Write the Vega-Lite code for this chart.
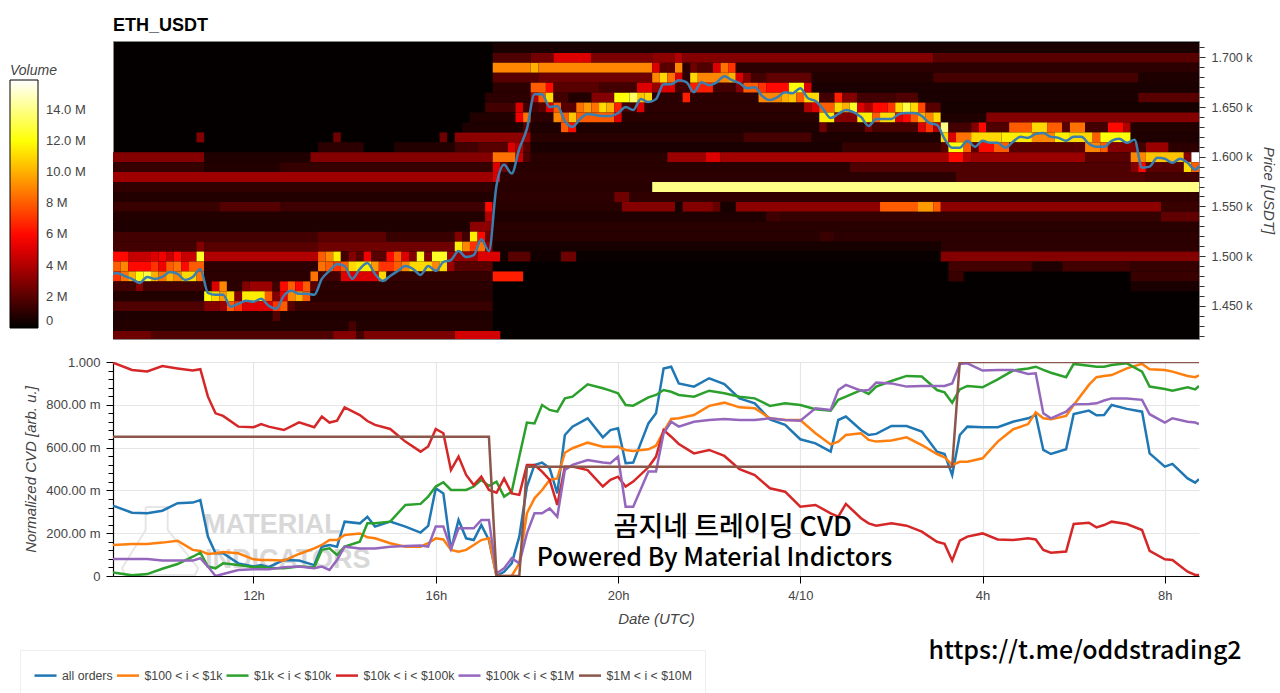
{
"$schema":"https://vega.github.io/schema/vega-lite/v6.json",
"background":"white",
"padding":{"left":9,"top":16,"right":8,"bottom":0},
"spacing":16,
"config":{"font":"Liberation Sans","axis":{"labelFontSize":13,"labelColor":"#444","titleFontSize":15,"titleFontStyle":"italic","titleFontWeight":"normal","titleColor":"#444","labelOverlap":false,"labelFlush":false}},
"vconcat":[
{"width":1086,"height":298,
"title":{"text":"ETH_USDT","anchor":"start","frame":"group","fontSize":18,"fontWeight":"bold","color":"#000","offset":6},
"view":{"fill":"#050000","stroke":"#888"},
"resolve":{"axis":{"y":"independent"}},
"layer":[
{"data":{"format":{"parse":{"t0":"utc:'%d %H:%M'","t1":"utc:'%d %H:%M'"}},"values":[
{"t0":"3 17:15","t1":"4 08:45","p":1710,"v":0.6},
{"t0":"3 17:15","t1":"3 18:05","p":1700,"v":1.8},{"t0":"3 18:05","t1":"3 18:35","p":1700,"v":2.6},{"t0":"3 18:35","t1":"3 19:25","p":1700,"v":5},{"t0":"3 19:25","t1":"3 20:45","p":1700,"v":2.8},{"t0":"3 20:45","t1":"3 21:15","p":1700,"v":3.2},{"t0":"3 21:15","t1":"3 21:25","p":1700,"v":4},{"t0":"3 21:25","t1":"4 02:55","p":1700,"v":3},{"t0":"4 02:55","t1":"4 08:45","p":1700,"v":2},
{"t0":"3 17:15","t1":"3 18:05","p":1690,"v":9},{"t0":"3 18:05","t1":"3 18:15","p":1690,"v":10},{"t0":"3 18:15","t1":"3 20:45","p":1690,"v":9},{"t0":"3 20:45","t1":"3 20:55","p":1690,"v":5},{"t0":"3 20:55","t1":"3 21:15","p":1690,"v":2},{"t0":"3 21:15","t1":"3 21:25","p":1690,"v":9},{"t0":"3 21:25","t1":"3 21:35","p":1690,"v":1},{"t0":"3 21:35","t1":"3 21:45","p":1690,"v":2.5},{"t0":"3 21:45","t1":"3 22:05","p":1690,"v":1.8},{"t0":"3 22:05","t1":"3 22:15","p":1690,"v":5},{"t0":"3 22:15","t1":"3 22:25","p":1690,"v":8.5},{"t0":"3 22:25","t1":"3 22:35","p":1690,"v":7},{"t0":"3 22:35","t1":"4 08:45","p":1690,"v":1},
{"t0":"3 17:15","t1":"3 18:15","p":1680,"v":2},{"t0":"3 18:15","t1":"3 20:45","p":1680,"v":2.5},{"t0":"3 20:45","t1":"3 20:55","p":1680,"v":9},{"t0":"3 20:55","t1":"3 21:05","p":1680,"v":11},{"t0":"3 21:05","t1":"3 21:15","p":1680,"v":8.5},{"t0":"3 21:15","t1":"3 21:25","p":1680,"v":5},{"t0":"3 21:25","t1":"3 21:35","p":1680,"v":1},{"t0":"3 21:35","t1":"3 21:45","p":1680,"v":11},{"t0":"3 21:45","t1":"3 22:25","p":1680,"v":9},{"t0":"3 22:25","t1":"3 22:35","p":1680,"v":10},{"t0":"3 22:35","t1":"3 22:45","p":1680,"v":5},{"t0":"3 22:45","t1":"3 22:55","p":1680,"v":3},{"t0":"3 22:55","t1":"3 23:15","p":1680,"v":1.5},{"t0":"3 23:15","t1":"4 00:15","p":1680,"v":2.2},{"t0":"4 00:15","t1":"4 02:55","p":1680,"v":0.8},{"t0":"4 02:55","t1":"4 07:25","p":1680,"v":1.6},{"t0":"4 07:25","t1":"4 08:45","p":1680,"v":0.7},
{"t0":"3 17:15","t1":"3 18:05","p":1670,"v":1},{"t0":"3 18:05","t1":"3 18:25","p":1670,"v":8},{"t0":"3 18:25","t1":"3 18:35","p":1670,"v":6},{"t0":"3 18:35","t1":"3 19:35","p":1670,"v":2},{"t0":"3 19:35","t1":"3 20:25","p":1670,"v":1.5},{"t0":"3 20:25","t1":"3 20:45","p":1670,"v":5},{"t0":"3 20:45","t1":"3 20:55","p":1670,"v":3.5},{"t0":"3 20:55","t1":"3 21:15","p":1670,"v":5},{"t0":"3 21:15","t1":"3 21:35","p":1670,"v":1.5},{"t0":"3 21:35","t1":"3 22:05","p":1670,"v":6.5},{"t0":"3 22:05","t1":"3 22:35","p":1670,"v":1.5},{"t0":"3 22:35","t1":"3 22:45","p":1670,"v":3},{"t0":"3 22:45","t1":"3 23:05","p":1670,"v":8},{"t0":"3 23:05","t1":"3 23:15","p":1670,"v":7},{"t0":"3 23:15","t1":"3 23:45","p":1670,"v":6},{"t0":"3 23:45","t1":"4 00:05","p":1670,"v":12},{"t0":"4 00:05","t1":"4 00:15","p":1670,"v":5},{"t0":"4 00:15","t1":"4 08:45","p":1670,"v":0.6},
{"t0":"3 17:05","t1":"3 18:05","p":1660,"v":1},{"t0":"3 18:05","t1":"3 18:15","p":1660,"v":4},{"t0":"3 18:15","t1":"3 18:25","p":1660,"v":8},{"t0":"3 18:25","t1":"3 18:35","p":1660,"v":11},{"t0":"3 18:35","t1":"3 18:55","p":1660,"v":1.5},{"t0":"3 18:55","t1":"3 19:25","p":1660,"v":0.8},{"t0":"3 19:25","t1":"3 19:55","p":1660,"v":3},{"t0":"3 19:55","t1":"3 20:15","p":1660,"v":12},{"t0":"3 20:15","t1":"3 20:25","p":1660,"v":13.5},{"t0":"3 20:25","t1":"3 20:35","p":1660,"v":10.5},{"t0":"3 20:35","t1":"3 20:45","p":1660,"v":11},{"t0":"3 20:45","t1":"3 21:25","p":1660,"v":1},{"t0":"3 21:25","t1":"3 21:35","p":1660,"v":6.5},{"t0":"3 21:35","t1":"3 23:05","p":1660,"v":1},{"t0":"3 23:05","t1":"3 23:35","p":1660,"v":9},{"t0":"3 23:35","t1":"3 23:45","p":1660,"v":10},{"t0":"3 23:45","t1":"3 23:55","p":1660,"v":10.5},{"t0":"3 23:55","t1":"4 00:05","p":1660,"v":8},{"t0":"4 00:05","t1":"4 00:25","p":1660,"v":11},{"t0":"4 00:25","t1":"4 00:45","p":1660,"v":1.5},{"t0":"4 00:45","t1":"4 00:55","p":1660,"v":6.5},{"t0":"4 00:55","t1":"4 01:15","p":1660,"v":3},{"t0":"4 01:15","t1":"4 02:05","p":1660,"v":1.5},{"t0":"4 02:05","t1":"4 02:35","p":1660,"v":1.8},{"t0":"4 02:35","t1":"4 07:25","p":1660,"v":0.6},{"t0":"4 07:25","t1":"4 08:45","p":1660,"v":2},
{"t0":"3 17:05","t1":"3 17:45","p":1650,"v":1.5},{"t0":"3 17:45","t1":"3 17:55","p":1650,"v":5},{"t0":"3 17:55","t1":"3 18:15","p":1650,"v":1.5},{"t0":"3 18:15","t1":"3 18:25","p":1650,"v":2},{"t0":"3 18:25","t1":"3 18:35","p":1650,"v":5},{"t0":"3 18:35","t1":"3 18:45","p":1650,"v":8},{"t0":"3 18:45","t1":"3 19:05","p":1650,"v":2},{"t0":"3 19:05","t1":"3 19:15","p":1650,"v":8.5},{"t0":"3 19:15","t1":"3 19:25","p":1650,"v":9.5},{"t0":"3 19:25","t1":"3 19:35","p":1650,"v":8.5},{"t0":"3 19:35","t1":"3 19:45","p":1650,"v":11},{"t0":"3 19:45","t1":"3 19:55","p":1650,"v":10},{"t0":"3 19:55","t1":"3 20:05","p":1650,"v":6.5},{"t0":"3 20:05","t1":"3 20:25","p":1650,"v":1.5},{"t0":"3 20:25","t1":"3 20:35","p":1650,"v":5},{"t0":"3 20:35","t1":"4 00:05","p":1650,"v":1},{"t0":"4 00:05","t1":"4 00:15","p":1650,"v":4},{"t0":"4 00:15","t1":"4 00:25","p":1650,"v":5},{"t0":"4 00:25","t1":"4 00:45","p":1650,"v":8},{"t0":"4 00:45","t1":"4 00:55","p":1650,"v":11},{"t0":"4 00:55","t1":"4 01:05","p":1650,"v":10},{"t0":"4 01:05","t1":"4 01:15","p":1650,"v":12.5},{"t0":"4 01:15","t1":"4 01:25","p":1650,"v":5},{"t0":"4 01:25","t1":"4 01:35","p":1650,"v":4},{"t0":"4 01:35","t1":"4 01:55","p":1650,"v":6},{"t0":"4 01:55","t1":"4 02:05","p":1650,"v":7},{"t0":"4 02:05","t1":"4 02:15","p":1650,"v":11},{"t0":"4 02:15","t1":"4 02:25","p":1650,"v":13},{"t0":"4 02:25","t1":"4 02:35","p":1650,"v":11},{"t0":"4 02:35","t1":"4 02:45","p":1650,"v":7.5},{"t0":"4 02:45","t1":"4 03:05","p":1650,"v":2},{"t0":"4 03:05","t1":"4 08:45","p":1650,"v":0.5},
{"t0":"3 16:45","t1":"3 17:45","p":1640,"v":0.8},{"t0":"3 17:45","t1":"3 17:55","p":1640,"v":5.5},{"t0":"3 17:55","t1":"3 18:05","p":1640,"v":8.5},{"t0":"3 18:05","t1":"3 18:35","p":1640,"v":1},{"t0":"3 18:35","t1":"3 18:45","p":1640,"v":9},{"t0":"3 18:45","t1":"3 18:55","p":1640,"v":8},{"t0":"3 18:55","t1":"3 19:05","p":1640,"v":10.5},{"t0":"3 19:05","t1":"3 19:55","p":1640,"v":8},{"t0":"3 19:55","t1":"3 20:05","p":1640,"v":5},{"t0":"3 20:05","t1":"4 00:25","p":1640,"v":0.9},{"t0":"4 00:25","t1":"4 00:45","p":1640,"v":11.5},{"t0":"4 00:45","t1":"4 01:15","p":1640,"v":3},{"t0":"4 01:15","t1":"4 01:35","p":1640,"v":11.5},{"t0":"4 01:35","t1":"4 01:45","p":1640,"v":8},{"t0":"4 01:45","t1":"4 02:05","p":1640,"v":11},{"t0":"4 02:05","t1":"4 02:15","p":1640,"v":5},{"t0":"4 02:15","t1":"4 02:25","p":1640,"v":6},{"t0":"4 02:25","t1":"4 02:35","p":1640,"v":8},{"t0":"4 02:35","t1":"4 02:45","p":1640,"v":10},{"t0":"4 02:45","t1":"4 02:55","p":1640,"v":9},{"t0":"4 02:55","t1":"4 03:05","p":1640,"v":11},{"t0":"4 03:05","t1":"4 04:05","p":1640,"v":0.7},{"t0":"4 04:05","t1":"4 08:45","p":1640,"v":3},
{"t0":"3 16:35","t1":"3 17:55","p":1630,"v":0.7},{"t0":"3 17:55","t1":"3 18:05","p":1630,"v":2},{"t0":"3 18:05","t1":"3 18:45","p":1630,"v":0.7},{"t0":"3 18:45","t1":"3 18:55","p":1630,"v":8},{"t0":"3 18:55","t1":"3 19:05","p":1630,"v":6},{"t0":"3 19:05","t1":"4 00:25","p":1630,"v":0.7},{"t0":"4 00:25","t1":"4 00:35","p":1630,"v":2.5},{"t0":"4 00:35","t1":"4 01:25","p":1630,"v":1},{"t0":"4 01:25","t1":"4 01:35","p":1630,"v":2.5},{"t0":"4 01:35","t1":"4 02:35","p":1630,"v":1.6},{"t0":"4 02:35","t1":"4 02:45","p":1630,"v":5},{"t0":"4 02:45","t1":"4 02:55","p":1630,"v":7},{"t0":"4 02:55","t1":"4 03:05","p":1630,"v":4},{"t0":"4 03:05","t1":"4 03:15","p":1630,"v":14},{"t0":"4 03:15","t1":"4 03:45","p":1630,"v":1.5},{"t0":"4 03:45","t1":"4 03:55","p":1630,"v":3},{"t0":"4 03:55","t1":"4 04:05","p":1630,"v":6},{"t0":"4 04:05","t1":"4 04:35","p":1630,"v":1.8},{"t0":"4 04:35","t1":"4 05:05","p":1630,"v":8},{"t0":"4 05:05","t1":"4 05:25","p":1630,"v":11},{"t0":"4 05:25","t1":"4 05:45","p":1630,"v":8},{"t0":"4 05:45","t1":"4 05:55","p":1630,"v":2},{"t0":"4 05:55","t1":"4 06:15","p":1630,"v":8.5},{"t0":"4 06:15","t1":"4 06:45","p":1630,"v":1.5},{"t0":"4 06:45","t1":"4 07:05","p":1630,"v":6},{"t0":"4 07:05","t1":"4 07:15","p":1630,"v":4},{"t0":"4 07:15","t1":"4 08:45","p":1630,"v":0.8},
{"t0":"3 10:45","t1":"3 10:55","p":1620,"v":3},{"t0":"3 13:45","t1":"3 13:55","p":1620,"v":2.5},{"t0":"3 16:05","t1":"3 16:15","p":1620,"v":2.5},{"t0":"3 16:25","t1":"3 17:55","p":1620,"v":3.2},{"t0":"3 17:55","t1":"3 18:05","p":1620,"v":3.6},{"t0":"3 18:05","t1":"3 22:45","p":1620,"v":0.9},{"t0":"3 22:45","t1":"4 00:15","p":1620,"v":1.6},{"t0":"4 00:15","t1":"4 03:05","p":1620,"v":0.7},{"t0":"4 03:05","t1":"4 03:15","p":1620,"v":11},{"t0":"4 03:15","t1":"4 03:25","p":1620,"v":5},{"t0":"4 03:25","t1":"4 03:45","p":1620,"v":8.5},{"t0":"4 03:45","t1":"4 04:25","p":1620,"v":11},{"t0":"4 04:25","t1":"4 05:05","p":1620,"v":11.5},{"t0":"4 05:05","t1":"4 05:35","p":1620,"v":9},{"t0":"4 05:35","t1":"4 05:55","p":1620,"v":11.5},{"t0":"4 05:55","t1":"4 06:25","p":1620,"v":11},{"t0":"4 06:25","t1":"4 06:35","p":1620,"v":8},{"t0":"4 06:35","t1":"4 07:15","p":1620,"v":12},{"t0":"4 07:15","t1":"4 08:45","p":1620,"v":0.7},
{"t0":"3 13:25","t1":"3 14:25","p":1610,"v":1},{"t0":"3 15:05","t1":"3 16:25","p":1610,"v":0.8},{"t0":"3 16:25","t1":"3 16:55","p":1610,"v":1.5},{"t0":"3 16:55","t1":"3 17:35","p":1610,"v":2},{"t0":"3 17:35","t1":"3 17:45","p":1610,"v":5},{"t0":"3 17:45","t1":"3 17:55","p":1610,"v":4},{"t0":"3 17:55","t1":"3 18:05","p":1610,"v":2},{"t0":"3 18:05","t1":"4 00:55","p":1610,"v":0.6},{"t0":"4 00:55","t1":"4 03:05","p":1610,"v":1.2},{"t0":"4 03:05","t1":"4 03:15","p":1610,"v":2},{"t0":"4 03:15","t1":"4 03:35","p":1610,"v":12},{"t0":"4 03:35","t1":"4 03:45","p":1610,"v":8},{"t0":"4 03:45","t1":"4 03:55","p":1610,"v":2},{"t0":"4 03:55","t1":"4 04:15","p":1610,"v":6},{"t0":"4 04:15","t1":"4 04:35","p":1610,"v":8},{"t0":"4 04:35","t1":"4 06:15","p":1610,"v":2},{"t0":"4 06:15","t1":"4 06:35","p":1610,"v":9},{"t0":"4 06:35","t1":"4 06:45","p":1610,"v":8},{"t0":"4 06:45","t1":"4 07:25","p":1610,"v":3},{"t0":"4 07:25","t1":"4 07:35","p":1610,"v":1.5},{"t0":"4 07:35","t1":"4 08:05","p":1610,"v":3.5},{"t0":"4 08:05","t1":"4 08:45","p":1610,"v":1},
{"t0":"3 08:55","t1":"3 10:55","p":1600,"v":3},{"t0":"3 10:55","t1":"3 13:15","p":1600,"v":0.7},{"t0":"3 13:15","t1":"3 17:15","p":1600,"v":3},{"t0":"3 17:15","t1":"3 17:45","p":1600,"v":8.5},{"t0":"3 17:45","t1":"3 17:55","p":1600,"v":4.5},{"t0":"3 17:55","t1":"3 18:05","p":1600,"v":1.8},{"t0":"3 18:05","t1":"3 21:05","p":1600,"v":0.9},{"t0":"3 21:05","t1":"3 21:55","p":1600,"v":3.5},{"t0":"3 21:55","t1":"3 22:15","p":1600,"v":5},{"t0":"3 22:15","t1":"4 03:15","p":1600,"v":3.7},{"t0":"4 03:15","t1":"4 03:35","p":1600,"v":6},{"t0":"4 03:35","t1":"4 03:45","p":1600,"v":4},{"t0":"4 03:45","t1":"4 06:15","p":1600,"v":3.5},{"t0":"4 06:15","t1":"4 07:15","p":1600,"v":2},{"t0":"4 07:15","t1":"4 07:35","p":1600,"v":9},{"t0":"4 07:35","t1":"4 08:25","p":1600,"v":10.5},{"t0":"4 08:25","t1":"4 08:35","p":1600,"v":3},{"t0":"4 08:35","t1":"4 08:45","p":1600,"v":15.9},
{"t0":"3 08:55","t1":"3 10:55","p":1590,"v":1.2},{"t0":"3 10:55","t1":"3 12:35","p":1590,"v":0.8},{"t0":"3 12:35","t1":"3 17:15","p":1590,"v":1.2},{"t0":"3 17:15","t1":"3 17:25","p":1590,"v":5},{"t0":"3 17:25","t1":"3 17:35","p":1590,"v":2.5},{"t0":"3 17:35","t1":"4 01:05","p":1590,"v":0.9},{"t0":"4 01:05","t1":"4 07:15","p":1590,"v":1.8},{"t0":"4 07:15","t1":"4 07:25","p":1590,"v":3},{"t0":"4 07:25","t1":"4 07:35","p":1590,"v":6},{"t0":"4 07:35","t1":"4 08:25","p":1590,"v":2},{"t0":"4 08:25","t1":"4 08:35","p":1590,"v":11},{"t0":"4 08:35","t1":"4 08:45","p":1590,"v":8},
{"t0":"3 08:55","t1":"3 17:15","p":1580,"v":3.6},{"t0":"3 17:15","t1":"3 17:25","p":1580,"v":5},{"t0":"3 17:25","t1":"4 03:25","p":1580,"v":1},{"t0":"4 03:25","t1":"4 07:35","p":1580,"v":1.8},{"t0":"4 07:35","t1":"4 08:45","p":1580,"v":1.5},
{"t0":"3 08:55","t1":"3 17:15","p":1570,"v":1.1},{"t0":"3 17:15","t1":"3 20:45","p":1570,"v":0.9},{"t0":"3 20:45","t1":"4 08:45","p":1570,"v":14},
{"t0":"3 08:55","t1":"3 17:15","p":1560,"v":0.8},{"t0":"3 17:15","t1":"3 19:55","p":1560,"v":1},{"t0":"3 19:55","t1":"3 20:15","p":1560,"v":2.5},{"t0":"3 20:15","t1":"4 08:45","p":1560,"v":1.1},
{"t0":"3 08:55","t1":"3 11:15","p":1550,"v":1.3},{"t0":"3 11:15","t1":"3 12:35","p":1550,"v":1.9},{"t0":"3 12:35","t1":"3 17:05","p":1550,"v":1.4},{"t0":"3 17:05","t1":"3 17:15","p":1550,"v":6},{"t0":"3 17:15","t1":"3 20:05","p":1550,"v":0.9},{"t0":"3 20:05","t1":"3 21:15","p":1550,"v":3},{"t0":"3 21:15","t1":"3 21:25","p":1550,"v":0.5},{"t0":"3 21:25","t1":"3 22:05","p":1550,"v":3},{"t0":"3 22:05","t1":"3 22:15","p":1550,"v":2.3},{"t0":"3 22:15","t1":"3 22:35","p":1550,"v":0.5},{"t0":"3 22:35","t1":"4 01:45","p":1550,"v":3.2},{"t0":"4 01:45","t1":"4 02:35","p":1550,"v":8},{"t0":"4 02:35","t1":"4 02:55","p":1550,"v":9.5},{"t0":"4 02:55","t1":"4 03:05","p":1550,"v":8},{"t0":"4 03:05","t1":"4 07:55","p":1550,"v":3.2},{"t0":"4 07:55","t1":"4 08:45","p":1550,"v":1.3},
{"t0":"3 08:55","t1":"3 17:05","p":1540,"v":0.8},{"t0":"3 17:05","t1":"3 17:15","p":1540,"v":4},{"t0":"3 17:15","t1":"3 23:15","p":1540,"v":0.7},{"t0":"3 23:15","t1":"3 23:35","p":1540,"v":1.4},{"t0":"3 23:35","t1":"4 07:55","p":1540,"v":1.2},{"t0":"4 07:55","t1":"4 08:45","p":1540,"v":2.2},
{"t0":"3 08:55","t1":"3 16:45","p":1530,"v":0.7},{"t0":"3 16:45","t1":"3 17:15","p":1530,"v":3.2},{"t0":"3 17:15","t1":"4 08:45","p":1530,"v":0.9},
{"t0":"3 08:55","t1":"3 13:25","p":1520,"v":1.5},{"t0":"3 13:25","t1":"3 14:55","p":1520,"v":2.1},{"t0":"3 14:55","t1":"3 16:25","p":1520,"v":1.3},{"t0":"3 16:25","t1":"3 16:35","p":1520,"v":3},{"t0":"3 16:35","t1":"3 16:45","p":1520,"v":1.5},{"t0":"3 16:45","t1":"3 16:55","p":1520,"v":11.5},{"t0":"3 16:55","t1":"3 17:05","p":1520,"v":6},{"t0":"3 17:05","t1":"3 17:15","p":1520,"v":2.5},{"t0":"3 17:15","t1":"4 00:25","p":1520,"v":0.9},{"t0":"4 00:25","t1":"4 00:45","p":1520,"v":1.3},{"t0":"4 00:45","t1":"4 08:45","p":1520,"v":1},
{"t0":"3 08:55","t1":"3 10:45","p":1510,"v":1.5},{"t0":"3 10:45","t1":"3 10:55","p":1510,"v":3},{"t0":"3 10:55","t1":"3 13:25","p":1510,"v":2},{"t0":"3 13:25","t1":"3 16:25","p":1510,"v":2.5},{"t0":"3 16:25","t1":"3 16:35","p":1510,"v":11.5},{"t0":"3 16:35","t1":"3 16:45","p":1510,"v":9},{"t0":"3 16:45","t1":"3 16:55","p":1510,"v":7},{"t0":"3 16:55","t1":"3 17:05","p":1510,"v":8.5},{"t0":"3 17:05","t1":"3 17:15","p":1510,"v":3.5},{"t0":"3 17:15","t1":"4 03:05","p":1510,"v":0.5},{"t0":"4 03:05","t1":"4 08:45","p":1510,"v":1},
{"t0":"3 08:55","t1":"3 09:15","p":1500,"v":6},{"t0":"3 09:15","t1":"3 09:45","p":1500,"v":4.5},{"t0":"3 09:45","t1":"3 09:55","p":1500,"v":5},{"t0":"3 09:55","t1":"3 10:05","p":1500,"v":5.5},{"t0":"3 10:05","t1":"3 10:15","p":1500,"v":4.5},{"t0":"3 10:15","t1":"3 10:25","p":1500,"v":6},{"t0":"3 10:25","t1":"3 10:45","p":1500,"v":4.5},{"t0":"3 10:45","t1":"3 10:55","p":1500,"v":12.5},{"t0":"3 10:55","t1":"3 13:25","p":1500,"v":4},{"t0":"3 13:25","t1":"3 13:35","p":1500,"v":8},{"t0":"3 13:35","t1":"3 13:45","p":1500,"v":9},{"t0":"3 13:45","t1":"3 13:55","p":1500,"v":11.5},{"t0":"3 13:55","t1":"3 14:05","p":1500,"v":1.5},{"t0":"3 14:05","t1":"3 14:15","p":1500,"v":3},{"t0":"3 14:15","t1":"3 14:25","p":1500,"v":2},{"t0":"3 14:25","t1":"3 14:35","p":1500,"v":5.5},{"t0":"3 14:35","t1":"3 14:55","p":1500,"v":2},{"t0":"3 14:55","t1":"3 15:05","p":1500,"v":6},{"t0":"3 15:05","t1":"3 15:15","p":1500,"v":8},{"t0":"3 15:15","t1":"3 15:25","p":1500,"v":5},{"t0":"3 15:25","t1":"3 15:35","p":1500,"v":3},{"t0":"3 15:35","t1":"3 15:45","p":1500,"v":12.5},{"t0":"3 15:45","t1":"3 15:55","p":1500,"v":3},{"t0":"3 15:55","t1":"3 16:15","p":1500,"v":12.5},{"t0":"3 16:15","t1":"3 16:55","p":1500,"v":3.5},{"t0":"3 16:55","t1":"3 17:25","p":1500,"v":5},{"t0":"3 17:25","t1":"3 17:35","p":1500,"v":0.4},{"t0":"3 17:35","t1":"3 18:05","p":1500,"v":2},{"t0":"3 18:05","t1":"3 18:45","p":1500,"v":0.4},{"t0":"3 18:45","t1":"3 19:05","p":1500,"v":2.5},{"t0":"3 19:05","t1":"4 03:05","p":1500,"v":0.2},{"t0":"4 03:05","t1":"4 08:45","p":1500,"v":3},
{"t0":"3 08:55","t1":"3 09:05","p":1490,"v":8},{"t0":"3 09:05","t1":"3 09:15","p":1490,"v":9},{"t0":"3 09:15","t1":"3 09:45","p":1490,"v":6},{"t0":"3 09:45","t1":"3 09:55","p":1490,"v":7},{"t0":"3 09:55","t1":"3 10:05","p":1490,"v":5.5},{"t0":"3 10:05","t1":"3 10:15","p":1490,"v":8},{"t0":"3 10:15","t1":"3 10:25","p":1490,"v":8.5},{"t0":"3 10:25","t1":"3 10:35","p":1490,"v":6},{"t0":"3 10:35","t1":"3 10:55","p":1490,"v":8},{"t0":"3 10:55","t1":"3 13:25","p":1490,"v":1},{"t0":"3 13:25","t1":"3 13:35","p":1490,"v":8.5},{"t0":"3 13:35","t1":"3 13:45","p":1490,"v":8},{"t0":"3 13:45","t1":"3 13:55","p":1490,"v":7},{"t0":"3 13:55","t1":"3 14:05","p":1490,"v":8},{"t0":"3 14:05","t1":"3 14:15","p":1490,"v":11},{"t0":"3 14:15","t1":"3 14:35","p":1490,"v":11.5},{"t0":"3 14:35","t1":"3 14:45","p":1490,"v":9.5},{"t0":"3 14:45","t1":"3 15:05","p":1490,"v":7},{"t0":"3 15:05","t1":"3 15:15","p":1490,"v":8},{"t0":"3 15:15","t1":"3 15:25","p":1490,"v":9},{"t0":"3 15:25","t1":"3 15:55","p":1490,"v":11},{"t0":"3 15:55","t1":"3 16:05","p":1490,"v":9},{"t0":"3 16:05","t1":"3 16:15","p":1490,"v":11},{"t0":"3 16:15","t1":"3 16:25","p":1490,"v":3.5},{"t0":"3 16:25","t1":"3 17:15","p":1490,"v":2},{"t0":"4 03:15","t1":"4 05:05","p":1490,"v":1.5},{"t0":"4 05:05","t1":"4 05:45","p":1490,"v":0.7},{"t0":"4 05:45","t1":"4 07:15","p":1490,"v":1.5},{"t0":"4 07:15","t1":"4 08:45","p":1490,"v":1.2},
{"t0":"3 08:55","t1":"3 09:05","p":1480,"v":7},{"t0":"3 09:05","t1":"3 09:15","p":1480,"v":8.5},{"t0":"3 09:15","t1":"3 09:25","p":1480,"v":10},{"t0":"3 09:25","t1":"3 09:35","p":1480,"v":12},{"t0":"3 09:35","t1":"3 09:45","p":1480,"v":13},{"t0":"3 09:45","t1":"3 09:55","p":1480,"v":10},{"t0":"3 09:55","t1":"3 10:05","p":1480,"v":8.5},{"t0":"3 10:05","t1":"3 10:15","p":1480,"v":10},{"t0":"3 10:15","t1":"3 10:25","p":1480,"v":9},{"t0":"3 10:25","t1":"3 10:45","p":1480,"v":11},{"t0":"3 10:45","t1":"3 10:55","p":1480,"v":8.5},{"t0":"3 10:55","t1":"3 13:15","p":1480,"v":1},{"t0":"3 13:15","t1":"3 13:25","p":1480,"v":8.5},{"t0":"3 13:25","t1":"3 13:55","p":1480,"v":1.5},{"t0":"3 13:55","t1":"3 14:45","p":1480,"v":5},{"t0":"3 14:45","t1":"3 14:55","p":1480,"v":11},{"t0":"3 14:55","t1":"3 17:15","p":1480,"v":1.2},{"t0":"3 17:15","t1":"3 17:55","p":1480,"v":6.5},{"t0":"4 03:15","t1":"4 03:35","p":1480,"v":1.3},{"t0":"4 07:15","t1":"4 08:45","p":1480,"v":1.3},
{"t0":"3 08:55","t1":"3 09:25","p":1470,"v":1.5},{"t0":"3 09:25","t1":"3 09:35","p":1470,"v":3},{"t0":"3 09:35","t1":"3 10:55","p":1470,"v":1.5},{"t0":"3 10:55","t1":"3 11:05","p":1470,"v":1},{"t0":"3 11:05","t1":"3 11:15","p":1470,"v":5},{"t0":"3 11:15","t1":"3 11:25","p":1470,"v":9},{"t0":"3 11:25","t1":"3 11:45","p":1470,"v":1},{"t0":"3 11:45","t1":"3 11:55","p":1470,"v":3},{"t0":"3 11:55","t1":"3 12:25","p":1470,"v":3.5},{"t0":"3 12:25","t1":"3 12:35","p":1470,"v":1.5},{"t0":"3 12:35","t1":"3 12:45","p":1470,"v":6},{"t0":"3 12:45","t1":"3 12:55","p":1470,"v":8},{"t0":"3 12:55","t1":"3 13:05","p":1470,"v":6},{"t0":"3 13:05","t1":"3 13:15","p":1470,"v":8},{"t0":"3 13:15","t1":"3 13:25","p":1470,"v":2},{"t0":"3 13:25","t1":"3 17:15","p":1470,"v":1},{"t0":"4 07:15","t1":"4 08:45","p":1470,"v":0.6},
{"t0":"3 08:55","t1":"3 10:55","p":1460,"v":0.8},{"t0":"3 10:55","t1":"3 11:05","p":1460,"v":12},{"t0":"3 11:05","t1":"3 11:15","p":1460,"v":11},{"t0":"3 11:15","t1":"3 11:25","p":1460,"v":9.5},{"t0":"3 11:25","t1":"3 11:35","p":1460,"v":11},{"t0":"3 11:35","t1":"3 11:45","p":1460,"v":3},{"t0":"3 11:45","t1":"3 12:15","p":1460,"v":11.5},{"t0":"3 12:15","t1":"3 12:25","p":1460,"v":8},{"t0":"3 12:25","t1":"3 12:35","p":1460,"v":3},{"t0":"3 12:35","t1":"3 12:45","p":1460,"v":5.5},{"t0":"3 12:45","t1":"3 12:55","p":1460,"v":9},{"t0":"3 12:55","t1":"3 13:05","p":1460,"v":10},{"t0":"3 13:05","t1":"3 13:15","p":1460,"v":8},{"t0":"3 13:15","t1":"3 17:15","p":1460,"v":0.9},
{"t0":"3 08:55","t1":"3 10:55","p":1450,"v":1.8},{"t0":"3 10:55","t1":"3 11:15","p":1450,"v":3},{"t0":"3 11:15","t1":"3 11:25","p":1450,"v":3.5},{"t0":"3 11:25","t1":"3 11:35","p":1450,"v":8},{"t0":"3 11:35","t1":"3 11:45","p":1450,"v":7},{"t0":"3 11:45","t1":"3 12:25","p":1450,"v":5},{"t0":"3 12:25","t1":"3 12:35","p":1450,"v":7},{"t0":"3 12:35","t1":"3 12:45","p":1450,"v":8},{"t0":"3 12:45","t1":"3 12:55","p":1450,"v":2},{"t0":"3 12:55","t1":"3 17:15","p":1450,"v":1.3},
{"t0":"3 08:55","t1":"3 12:25","p":1440,"v":0.7},{"t0":"3 12:25","t1":"3 12:35","p":1440,"v":1.9},{"t0":"3 12:35","t1":"3 17:15","p":1440,"v":0.7},
{"t0":"3 08:55","t1":"3 14:05","p":1430,"v":0.8},{"t0":"3 14:05","t1":"3 14:15","p":1430,"v":1.6},{"t0":"3 14:15","t1":"3 17:15","p":1430,"v":0.8},
{"t0":"3 08:55","t1":"3 09:45","p":1420,"v":2.5},{"t0":"3 09:45","t1":"3 13:45","p":1420,"v":1.8},{"t0":"3 13:45","t1":"3 14:15","p":1420,"v":3},{"t0":"3 14:15","t1":"3 14:25","p":1420,"v":1.5},{"t0":"3 14:25","t1":"3 16:25","p":1420,"v":2.8},{"t0":"3 16:25","t1":"3 17:25","p":1420,"v":4.8}
]},
"mark":{"type":"rect","clip":true},
"encoding":{
"x":{"field":"t0","type":"temporal","axis":null,"scale":{"type":"utc","domain":[{"year":1900,"month":1,"date":3,"hours":8,"minutes":55,"utc":true},{"year":1900,"month":1,"date":4,"hours":8,"minutes":45,"utc":true}]}},
"x2":{"field":"t1"},
"y":{"field":"p","type":"quantitative","bin":{"extent":[1415,1725],"step":10,"nice":false},"scale":{"domain":[1416.5,1716.5]},
"axis":{"orient":"right","title":"Price [USDT]","values":[1450,1500,1550,1600,1650,1700],"labelExpr":"format(datum.value/1000,'.3f')+' k'","grid":false,"domain":false,"tickSize":6,"tickColor":"#333","labelPadding":6,"labelFontSize":12.5,"titlePadding":8}},
"color":{"field":"v","type":"quantitative","scale":{"domain":[0,5.8,11.9,15.9],"range":["#000000","#ff0000","#ffff00","#ffffff"],"interpolate":"rgb"},
"legend":{"type":"gradient","title":"Volume","orient":"none","legendX":-103,"legendY":23,"titlePadding":2,"titleFontStyle":"italic","titleFontWeight":"normal","titleFontSize":14,"titleColor":"#444","gradientLength":248,"gradientThickness":28,"gradientStrokeColor":"#000","gradientStrokeWidth":1,"values":[0,2,4,6,8,10,12,14],"labelExpr":"datum.value==0?'0':datum.value>=10?format(datum.value,'.1f')+' M':datum.value+' M'","labelOffset":8,"labelFontSize":13,"labelColor":"#444","labelOverlap":false}}
}},
{"data":{"format":{"parse":{"t":"utc:'%d %H:%M'"}},"values":[
{"t":"3 08:55","p":1482},{"t":"3 09:00","p":1483},{"t":"3 09:10","p":1480},{"t":"3 09:20","p":1477},{"t":"3 09:30","p":1473},{"t":"3 09:40","p":1479},{"t":"3 09:50","p":1477},{"t":"3 10:00","p":1479},{"t":"3 10:10","p":1484},{"t":"3 10:20","p":1482},{"t":"3 10:30","p":1476},{"t":"3 10:40","p":1479},{"t":"3 10:50","p":1487},{"t":"3 11:00","p":1463},{"t":"3 11:10","p":1461},{"t":"3 11:20","p":1461},{"t":"3 11:30","p":1449},{"t":"3 11:40","p":1452},{"t":"3 11:50","p":1455},{"t":"3 12:00","p":1454},{"t":"3 12:10","p":1457},{"t":"3 12:20","p":1450},{"t":"3 12:30","p":1447},{"t":"3 12:40","p":1460},{"t":"3 12:50","p":1465},{"t":"3 13:00","p":1462},{"t":"3 13:10","p":1462},{"t":"3 13:20","p":1461},{"t":"3 13:30","p":1477},{"t":"3 13:40","p":1485},{"t":"3 13:50","p":1492},{"t":"3 14:00","p":1490},{"t":"3 14:10","p":1477},{"t":"3 14:20","p":1487},{"t":"3 14:30","p":1493},{"t":"3 14:40","p":1482},{"t":"3 14:50","p":1475},{"t":"3 15:00","p":1480},{"t":"3 15:10","p":1485},{"t":"3 15:20","p":1490},{"t":"3 15:30","p":1487},{"t":"3 15:40","p":1481},{"t":"3 15:50","p":1490},{"t":"3 16:00","p":1485},{"t":"3 16:10","p":1494},{"t":"3 16:20","p":1496},{"t":"3 16:30","p":1505},{"t":"3 16:40","p":1499},{"t":"3 16:50","p":1501},{"t":"3 17:00","p":1517},{"t":"3 17:10","p":1505},{"t":"3 17:20","p":1571},{"t":"3 17:30","p":1592},{"t":"3 17:40","p":1583},{"t":"3 17:50","p":1608},{"t":"3 18:00","p":1628},{"t":"3 18:10","p":1663},{"t":"3 18:20","p":1663},{"t":"3 18:30","p":1650},{"t":"3 18:40","p":1651},{"t":"3 18:50","p":1636},{"t":"3 19:00","p":1630},{"t":"3 19:10","p":1638},{"t":"3 19:20","p":1643},{"t":"3 19:30","p":1642},{"t":"3 19:40","p":1641},{"t":"3 19:50","p":1641},{"t":"3 20:00","p":1644},{"t":"3 20:10","p":1650},{"t":"3 20:20","p":1647},{"t":"3 20:30","p":1658},{"t":"3 20:40","p":1655},{"t":"3 20:50","p":1658},{"t":"3 21:00","p":1673},{"t":"3 21:10","p":1673},{"t":"3 21:20","p":1677},{"t":"3 21:30","p":1675},{"t":"3 21:40","p":1665},{"t":"3 21:50","p":1675},{"t":"3 22:00","p":1672},{"t":"3 22:10","p":1675},{"t":"3 22:20","p":1681},{"t":"3 22:30","p":1677},{"t":"3 22:40","p":1674},{"t":"3 22:50","p":1669},{"t":"3 23:00","p":1670},{"t":"3 23:10","p":1661},{"t":"3 23:20","p":1657},{"t":"3 23:30","p":1660},{"t":"3 23:40","p":1665},{"t":"3 23:50","p":1664},{"t":"4 00:00","p":1669},{"t":"4 00:10","p":1659},{"t":"4 00:20","p":1656},{"t":"4 00:30","p":1648},{"t":"4 00:40","p":1639},{"t":"4 00:50","p":1643},{"t":"4 01:00","p":1647},{"t":"4 01:10","p":1645},{"t":"4 01:20","p":1640},{"t":"4 01:30","p":1631},{"t":"4 01:40","p":1638},{"t":"4 01:50","p":1638},{"t":"4 02:00","p":1638},{"t":"4 02:10","p":1643},{"t":"4 02:20","p":1644},{"t":"4 02:30","p":1644},{"t":"4 02:40","p":1641},{"t":"4 02:50","p":1634},{"t":"4 03:00","p":1632},{"t":"4 03:10","p":1618},{"t":"4 03:20","p":1609},{"t":"4 03:30","p":1609},{"t":"4 03:40","p":1616},{"t":"4 03:50","p":1610},{"t":"4 04:00","p":1616},{"t":"4 04:10","p":1614},{"t":"4 04:20","p":1614},{"t":"4 04:30","p":1609},{"t":"4 04:40","p":1615},{"t":"4 04:50","p":1620},{"t":"4 05:00","p":1619},{"t":"4 05:10","p":1623},{"t":"4 05:20","p":1624},{"t":"4 05:30","p":1620},{"t":"4 05:40","p":1619},{"t":"4 05:50","p":1616},{"t":"4 06:00","p":1620},{"t":"4 06:10","p":1620},{"t":"4 06:20","p":1613},{"t":"4 06:30","p":1610},{"t":"4 06:40","p":1610},{"t":"4 06:50","p":1616},{"t":"4 07:00","p":1618},{"t":"4 07:10","p":1614},{"t":"4 07:20","p":1617},{"t":"4 07:30","p":1589},{"t":"4 07:40","p":1590},{"t":"4 07:50","p":1599},{"t":"4 08:00","p":1598},{"t":"4 08:10","p":1594},{"t":"4 08:20","p":1598},{"t":"4 08:30","p":1594},{"t":"4 08:40","p":1587},{"t":"4 08:45","p":1591}
]},
"mark":{"type":"line","color":"#3a7fb0","strokeWidth":2.5,"interpolate":"monotone","clip":true},
"encoding":{
"x":{"field":"t","type":"temporal","axis":null,"scale":{"type":"utc"}},
"y":{"field":"p","type":"quantitative","scale":{"domain":[1416.5,1716.5]},
"axis":{"orient":"right","title":null,"values":[1420,1430,1440,1460,1470,1480,1490,1510,1520,1530,1540,1560,1570,1580,1590,1610,1620,1630,1640,1660,1670,1680,1690,1710],"labels":false,"grid":false,"domain":false,"tickSize":5,"tickColor":"#333"}}
}}
]},
{"width":1086,"height":214,
"view":{"stroke":null},
"resolve":{"axis":{"y":"independent"}},
"encoding":{
"x":{"field":"t","type":"temporal","scale":{"type":"utc","domain":[{"year":1900,"month":1,"date":3,"hours":8,"minutes":55,"utc":true},{"year":1900,"month":1,"date":4,"hours":8,"minutes":45,"utc":true}]},
"axis":{"title":"Date (UTC)","values":[{"year":1900,"month":1,"date":3,"hours":12,"utc":true},{"year":1900,"month":1,"date":3,"hours":16,"utc":true},{"year":1900,"month":1,"date":3,"hours":20,"utc":true},{"year":1900,"month":1,"date":4,"hours":0,"utc":true},{"year":1900,"month":1,"date":4,"hours":4,"utc":true},{"year":1900,"month":1,"date":4,"hours":8,"utc":true}],
"labelExpr":"utchours(datum.value)==0?'4/10':utchours(datum.value)+'h'","grid":true,"gridColor":"#e6e6e6","gridWidth":1.2,"domainColor":"#000","domainWidth":1.2,"tickColor":"#000","tickSize":7,"labelPadding":6,"titlePadding":9}}
},
"layer":[
{"data":{"format":{"parse":{"t":"utc:'%d %H:%M'"}},"values":[{"t":"3 10:54","v":0.238,"label":"MATERIAL"},{"t":"3 10:56","v":0.075,"label":"INDICATORS"}]},
"mark":{"type":"text","align":"left","baseline":"middle","fontSize":27,"fontWeight":"bold","color":"#d8d8d8"},
"encoding":{"y":{"field":"v","type":"quantitative","scale":{"domain":[0,1]},
"axis":{"orient":"left","title":null,"values":[0.04,0.08,0.12,0.16,0.24,0.28,0.32,0.36,0.44,0.48,0.52,0.56,0.64,0.68,0.72,0.76,0.84,0.88,0.92,0.96],"labels":false,"grid":false,"domain":false,"tickSize":5,"tickColor":"#000"}},"text":{"field":"label"}}},
{"data":{"format":{"parse":{"t":"utc:'%d %H:%M'"}},"values":[{"n":1,"t":"3 09:38","v":0.322},{"n":2,"t":"3 09:38","v":0.215},{"n":3,"t":"3 09:07","v":0.037},{"n":4,"t":"3 09:11","v":0.005},{"n":5,"t":"3 10:43","v":0.005},{"n":6,"t":"3 10:47","v":0.037},{"n":7,"t":"3 10:07","v":0.215},{"n":8,"t":"3 10:07","v":0.322},{"n":9,"t":"3 09:38","v":0.322}]},
"mark":{"type":"line","color":"#e6e6e6","strokeWidth":2},
"encoding":{"y":{"field":"v","type":"quantitative","axis":null},"order":{"field":"n"}}},
{"data":{"format":{"parse":{"t":"utc:'%d %H:%M'"}},"values":[
{"t":"3 08:55","all":0.329,"k1":0.145,"k10":0.016,"k100":0.997,"m1":0.079,"m10":0.651},
{"t":"3 09:20","all":0.296,"k1":0.15,"k10":0.003,"k100":0.963,"m1":0.079,"m10":0.651},
{"t":"3 09:40","all":0.293,"k1":0.15,"k10":0.009,"k100":0.956,"m1":0.079,"m10":0.651},
{"t":"3 10:00","all":0.305,"k1":0.156,"k10":0.034,"k100":0.981,"m1":0.072,"m10":0.651},
{"t":"3 10:20","all":0.34,"k1":0.165,"k10":0.056,"k100":0.97,"m1":0.072,"m10":0.651},
{"t":"3 10:40","all":0.343,"k1":0.122,"k10":0.09,"k100":0.96,"m1":0.072,"m10":0.651},
{"t":"3 10:50","all":0.355,"k1":0.117,"k10":0.109,"k100":0.966,"m1":0.083,"m10":0.651},
{"t":"3 11:00","all":0.184,"k1":0.103,"k10":0.044,"k100":0.838,"m1":0.044,"m10":0.651},
{"t":"3 11:10","all":0.106,"k1":0.106,"k10":0.036,"k100":0.76,"m1":0,"m10":0.651},
{"t":"3 11:20","all":0.106,"k1":0.112,"k10":0.059,"k100":0.748,"m1":0.009,"m10":0.651},
{"t":"3 11:40","all":0.059,"k1":0.106,"k10":0.051,"k100":0.698,"m1":0.028,"m10":0.651},
{"t":"3 12:00","all":0.044,"k1":0.078,"k10":0.041,"k100":0.695,"m1":0.031,"m10":0.651},
{"t":"3 12:10","all":0.051,"k1":0.075,"k10":0.044,"k100":0.71,"m1":0.031,"m10":0.651},
{"t":"3 12:20","all":0.041,"k1":0.075,"k10":0.036,"k100":0.698,"m1":0.031,"m10":0.651},
{"t":"3 12:40","all":0.075,"k1":0.072,"k10":0.036,"k100":0.682,"m1":0.041,"m10":0.651},
{"t":"3 13:00","all":0.072,"k1":0.103,"k10":0.044,"k100":0.718,"m1":0.044,"m10":0.651},
{"t":"3 13:20","all":0.051,"k1":0.129,"k10":0.041,"k100":0.695,"m1":0.036,"m10":0.651},
{"t":"3 13:30","all":0.137,"k1":0.145,"k10":0.122,"k100":0.745,"m1":0.044,"m10":0.651},
{"t":"3 13:40","all":0.145,"k1":0.168,"k10":0.129,"k100":0.717,"m1":0.028,"m10":0.651},
{"t":"3 13:50","all":0.137,"k1":0.168,"k10":0.098,"k100":0.726,"m1":0.075,"m10":0.651},
{"t":"3 14:00","all":0.254,"k1":0.192,"k10":0.137,"k100":0.788,"m1":0.137,"m10":0.651},
{"t":"3 14:20","all":0.246,"k1":0.199,"k10":0.16,"k100":0.752,"m1":0.129,"m10":0.651},
{"t":"3 14:30","all":0.277,"k1":0.181,"k10":0.246,"k100":0.724,"m1":0.129,"m10":0.651},
{"t":"3 14:40","all":0.231,"k1":0.176,"k10":0.246,"k100":0.706,"m1":0.129,"m10":0.651},
{"t":"3 15:00","all":0.254,"k1":0.153,"k10":0.254,"k100":0.687,"m1":0.137,"m10":0.651},
{"t":"3 15:20","all":0.231,"k1":0.137,"k10":0.332,"k100":0.628,"m1":0.14,"m10":0.651},
{"t":"3 15:40","all":0.203,"k1":0.137,"k10":0.337,"k100":0.581,"m1":0.142,"m10":0.651},
{"t":"3 15:50","all":0.234,"k1":0.153,"k10":0.371,"k100":0.605,"m1":0.137,"m10":0.651},
{"t":"3 16:00","all":0.41,"k1":0.176,"k10":0.418,"k100":0.687,"m1":0.231,"m10":0.651},
{"t":"3 16:10","all":0.386,"k1":0.171,"k10":0.438,"k100":0.667,"m1":0.231,"m10":0.651},
{"t":"3 16:20","all":0.122,"k1":0.122,"k10":0.402,"k100":0.495,"m1":0.126,"m10":0.651},
{"t":"3 16:30","all":0.262,"k1":0.114,"k10":0.402,"k100":0.558,"m1":0.223,"m10":0.651},
{"t":"3 16:40","all":0.176,"k1":0.122,"k10":0.402,"k100":0.472,"m1":0.223,"m10":0.651},
{"t":"3 16:50","all":0.168,"k1":0.145,"k10":0.418,"k100":0.425,"m1":0.223,"m10":0.651},
{"t":"3 17:00","all":0.238,"k1":0.168,"k10":0.449,"k100":0.464,"m1":0.262,"m10":0.651},
{"t":"3 17:10","all":0.168,"k1":0.176,"k10":0.421,"k100":0.402,"m1":0.262,"m10":0.651},
{"t":"3 17:20","all":0,"k1":0,"k10":0.441,"k100":0.389,"m1":0.012,"m10":0},
{"t":"3 17:30","all":0.02,"k1":0,"k10":0.371,"k100":0.456,"m1":0.036,"m10":0},
{"t":"3 17:40","all":0.059,"k1":0,"k10":0.394,"k100":0.386,"m1":0.083,"m10":0},
{"t":"3 17:50","all":0.184,"k1":0.059,"k10":0.558,"k100":0.379,"m1":0.059,"m10":0},
{"t":"3 18:00","all":0.418,"k1":0.293,"k10":0.717,"k100":0.519,"m1":0.199,"m10":0.511},
{"t":"3 18:10","all":0.519,"k1":0.363,"k10":0.713,"k100":0.519,"m1":0.293,"m10":0.511},
{"t":"3 18:20","all":0.53,"k1":0.402,"k10":0.799,"k100":0.488,"m1":0.293,"m10":0.511},
{"t":"3 18:30","all":0.503,"k1":0.449,"k10":0.776,"k100":0.449,"m1":0.316,"m10":0.511},
{"t":"3 18:40","all":0.386,"k1":0.456,"k10":0.768,"k100":0.332,"m1":0.277,"m10":0.511},
{"t":"3 18:50","all":0.659,"k1":0.576,"k10":0.83,"k100":0.511,"m1":0.495,"m10":0.511},
{"t":"3 19:00","all":0.698,"k1":0.597,"k10":0.838,"k100":0.511,"m1":0.519,"m10":0.511},
{"t":"3 19:20","all":0.737,"k1":0.623,"k10":0.896,"k100":0.495,"m1":0.542,"m10":0.511},
{"t":"3 19:40","all":0.648,"k1":0.604,"k10":0.877,"k100":0.418,"m1":0.53,"m10":0.511},
{"t":"3 19:50","all":0.682,"k1":0.604,"k10":0.866,"k100":0.449,"m1":0.527,"m10":0.511},
{"t":"3 20:00","all":0.69,"k1":0.604,"k10":0.854,"k100":0.464,"m1":0.558,"m10":0.511},
{"t":"3 20:10","all":0.527,"k1":0.589,"k10":0.799,"k100":0.418,"m1":0.324,"m10":0.511},
{"t":"3 20:20","all":0.53,"k1":0.584,"k10":0.796,"k100":0.441,"m1":0.324,"m10":0.511},
{"t":"3 20:40","all":0.713,"k1":0.592,"k10":0.835,"k100":0.508,"m1":0.488,"m10":0.511},
{"t":"3 20:50","all":0.76,"k1":0.609,"k10":0.846,"k100":0.558,"m1":0.488,"m10":0.511},
{"t":"3 21:00","all":0.97,"k1":0.675,"k10":0.869,"k100":0.682,"m1":0.667,"m10":0.511},
{"t":"3 21:10","all":0.978,"k1":0.734,"k10":0.861,"k100":0.651,"m1":0.721,"m10":0.511},
{"t":"3 21:20","all":0.9,"k1":0.737,"k10":0.846,"k100":0.617,"m1":0.698,"m10":0.511},
{"t":"3 21:40","all":0.885,"k1":0.752,"k10":0.838,"k100":0.573,"m1":0.721,"m10":0.511},
{"t":"3 22:00","all":0.924,"k1":0.795,"k10":0.866,"k100":0.589,"m1":0.729,"m10":0.511},
{"t":"3 22:20","all":0.897,"k1":0.81,"k10":0.854,"k100":0.561,"m1":0.734,"m10":0.511},
{"t":"3 22:40","all":0.83,"k1":0.788,"k10":0.838,"k100":0.499,"m1":0.729,"m10":0.511},
{"t":"3 23:00","all":0.807,"k1":0.784,"k10":0.83,"k100":0.472,"m1":0.729,"m10":0.511},
{"t":"3 23:20","all":0.732,"k1":0.737,"k10":0.795,"k100":0.41,"m1":0.737,"m10":0.511},
{"t":"3 23:40","all":0.706,"k1":0.729,"k10":0.807,"k100":0.394,"m1":0.729,"m10":0.511},
{"t":"4 00:00","all":0.639,"k1":0.729,"k10":0.799,"k100":0.324,"m1":0.726,"m10":0.511},
{"t":"4 00:20","all":0.62,"k1":0.667,"k10":0.779,"k100":0.332,"m1":0.784,"m10":0.511},
{"t":"4 00:40","all":0.581,"k1":0.615,"k10":0.773,"k100":0.293,"m1":0.776,"m10":0.511},
{"t":"4 00:50","all":0.729,"k1":0.628,"k10":0.823,"k100":0.277,"m1":0.869,"m10":0.511},
{"t":"4 01:00","all":0.745,"k1":0.659,"k10":0.838,"k100":0.337,"m1":0.893,"m10":0.511},
{"t":"4 01:20","all":0.682,"k1":0.667,"k10":0.869,"k100":0.27,"m1":0.866,"m10":0.511},
{"t":"4 01:30","all":0.659,"k1":0.636,"k10":0.851,"k100":0.246,"m1":0.869,"m10":0.511},
{"t":"4 01:40","all":0.664,"k1":0.628,"k10":0.885,"k100":0.235,"m1":0.904,"m10":0.511},
{"t":"4 02:00","all":0.701,"k1":0.633,"k10":0.911,"k100":0.246,"m1":0.9,"m10":0.511},
{"t":"4 02:20","all":0.701,"k1":0.648,"k10":0.935,"k100":0.235,"m1":0.885,"m10":0.511},
{"t":"4 02:40","all":0.675,"k1":0.612,"k10":0.932,"k100":0.207,"m1":0.888,"m10":0.511},
{"t":"4 03:00","all":0.581,"k1":0.57,"k10":0.869,"k100":0.16,"m1":0.888,"m10":0.511},
{"t":"4 03:10","all":0.57,"k1":0.555,"k10":0.858,"k100":0.15,"m1":0.888,"m10":0.511},
{"t":"4 03:20","all":0.472,"k1":0.519,"k10":0.81,"k100":0.072,"m1":0.9,"m10":0.511},
{"t":"4 03:30","all":0.659,"k1":0.534,"k10":0.872,"k100":0.165,"m1":0.991,"m10":1},
{"t":"4 03:40","all":0.698,"k1":0.534,"k10":0.888,"k100":0.184,"m1":0.994,"m10":1},
{"t":"4 04:00","all":0.695,"k1":0.55,"k10":0.882,"k100":0.199,"m1":0.96,"m10":1},
{"t":"4 04:20","all":0.695,"k1":0.628,"k10":0.919,"k100":0.171,"m1":0.963,"m10":1},
{"t":"4 04:40","all":0.721,"k1":0.685,"k10":0.96,"k100":0.168,"m1":0.963,"m10":1},
{"t":"4 05:00","all":0.737,"k1":0.71,"k10":0.97,"k100":0.176,"m1":0.944,"m10":1},
{"t":"4 05:10","all":0.752,"k1":0.765,"k10":0.978,"k100":0.171,"m1":0.947,"m10":1},
{"t":"4 05:20","all":0.589,"k1":0.737,"k10":0.963,"k100":0.122,"m1":0.76,"m10":1},
{"t":"4 05:30","all":0.57,"k1":0.732,"k10":0.95,"k100":0.109,"m1":0.737,"m10":1},
{"t":"4 05:50","all":0.592,"k1":0.748,"k10":0.929,"k100":0.114,"m1":0.768,"m10":1},
{"t":"4 06:00","all":0.757,"k1":0.799,"k10":0.991,"k100":0.243,"m1":0.802,"m10":1},
{"t":"4 06:20","all":0.773,"k1":0.893,"k10":0.983,"k100":0.249,"m1":0.804,"m10":1},
{"t":"4 06:30","all":0.751,"k1":0.929,"k10":0.978,"k100":0.227,"m1":0.807,"m10":1},
{"t":"4 06:40","all":0.752,"k1":0.935,"k10":0.978,"k100":0.238,"m1":0.82,"m10":1},
{"t":"4 06:50","all":0.799,"k1":0.939,"k10":0.986,"k100":0.254,"m1":0.83,"m10":1},
{"t":"4 07:10","all":0.781,"k1":0.97,"k10":0.994,"k100":0.243,"m1":0.829,"m10":1},
{"t":"4 07:30","all":0.768,"k1":0.991,"k10":0.955,"k100":0.215,"m1":0.823,"m10":1},
{"t":"4 07:40","all":0.573,"k1":0.966,"k10":0.885,"k100":0.117,"m1":0.756,"m10":1},
{"t":"4 08:00","all":0.511,"k1":0.963,"k10":0.874,"k100":0.078,"m1":0.717,"m10":1},
{"t":"4 08:10","all":0.524,"k1":0.955,"k10":0.866,"k100":0.075,"m1":0.737,"m10":1},
{"t":"4 08:30","all":0.456,"k1":0.935,"k10":0.882,"k100":0.02,"m1":0.721,"m10":1},
{"t":"4 08:40","all":0.436,"k1":0.929,"k10":0.872,"k100":0.005,"m1":0.717,"m10":1},
{"t":"4 08:45","all":0.453,"k1":0.938,"k10":0.888,"k100":0.005,"m1":0.71,"m10":1}
]},
"transform":[{"fold":["all","k1","k10","k100","m1","m10"],"as":["series","cvd"]}],
"mark":{"type":"line","strokeWidth":2.5,"clip":true},
"encoding":{
"y":{"field":"cvd","type":"quantitative","scale":{"domain":[0,1]},
"axis":{"orient":"left","title":"Normalized CVD [arb. u.]","values":[0,0.2,0.4,0.6,0.8,1],"labelExpr":"datum.value==1?'1.000':datum.value==0?'0':format(datum.value*1000,'.2f')+' m'","grid":true,"gridColor":"#e6e6e6","gridWidth":1.2,"domainColor":"#000","domainWidth":1.2,"tickColor":"#000","tickSize":7,"labelPadding":6,"titlePadding":7}},
"color":{"field":"series","type":"nominal","sort":null,"scale":{"domain":["all","k1","k10","k100","m1","m10"],"range":["#1f77b4","#ff7f0e","#2ca02c","#d62728","#9467bd","#8c564b"]},
"legend":{"title":null,"orient":"none","legendX":-93,"legendY":288,"direction":"horizontal","columns":6,"symbolType":"stroke","symbolSize":484,"symbolStrokeWidth":2.5,"columnPadding":-1.5,"labelOffset":4,"labelFontSize":12.3,"labelColor":"#444","padding":13,"fillColor":"#ffffff","strokeColor":"#eeeeee","labelExpr":"{'all':'all orders','k1':'$100 < i < $1k','k10':'$1k < i < $10k','k100':'$10k < i < $100k','m1':'$100k < i < $1M','m10':'$1M < i < $10M'}[datum.label]"}}
}},
{"data":{"format":{"parse":{"t":"utc:'%d %H:%M'"}},"values":[{"t":"3 22:31","v":0.224,"label":"곰지네 트레이딩 CVD"}]},
"mark":{"type":"text","font":"Noto Sans CJK KR","fontSize":27,"fontWeight":500,"color":"#000","baseline":"middle"},
"encoding":{"y":{"field":"v","type":"quantitative","axis":null},"text":{"field":"label"}}},
{"data":{"format":{"parse":{"t":"utc:'%d %H:%M'"}},"values":[{"t":"3 22:07","v":0.082,"label":"Powered By Material Indictors"},{"t":"4 06:15","v":-0.351,"label":"https://t.me/oddstrading2"}]},
"mark":{"type":"text","font":"Noto Sans CJK KR","fontSize":25,"fontWeight":500,"color":"#000","baseline":"middle"},
"encoding":{"y":{"field":"v","type":"quantitative","axis":null},"text":{"field":"label"}}}
]}
]}
